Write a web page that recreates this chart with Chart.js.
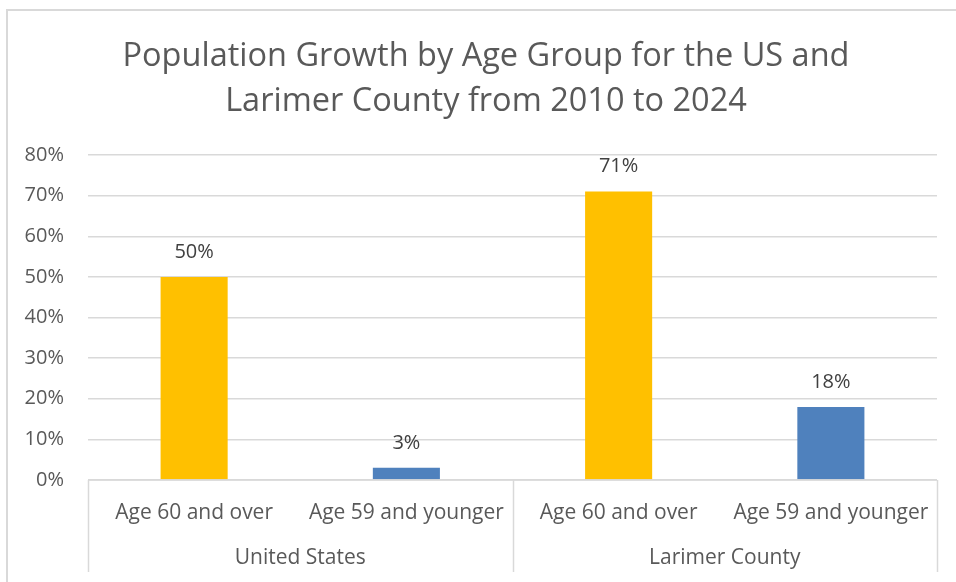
<!DOCTYPE html>
<html>
<head>
<meta charset="utf-8">
<script src="https://cdn.jsdelivr.net/npm/chart.js@4.4.1/dist/chart.umd.min.js"></script>
<style>
  html, body { margin: 0; padding: 0; background: #fff; }
  #wrap { width: 956px; height: 582px; }
</style>
</head>
<body>
<div id="wrap"><canvas id="growthChart" width="956" height="582"></canvas></div>
<script>
// data
const ageGroups = ["Age 60 and over", "Age 59 and younger", "Age 60 and over", "Age 59 and younger"];
const regions = ["United States", "Larimer County"];
const growthPct = [50, 3, 71, 18];
const barColors = ["#FFC000", "#4F81BD", "#FFC000", "#4F81BD"];
const yTicks = [0, 10, 20, 30, 40, 50, 60, 70, 80];
const titleLines = ["Population Growth by Age Group for the US and", "Larimer County from 2010 to 2024"];

const FONT = "'Open Sans', sans-serif";

// outer frame, title, value labels and the two-level category axis
const extras = {
    id: "extras",
    beforeDraw(chart) {
        const c = chart.ctx;
        c.save();
        c.strokeStyle = "#d9d9d9";
        c.lineWidth = 2;
        c.beginPath();
        c.moveTo(7, 600);
        c.lineTo(7, 10);
        c.lineTo(970, 10);
        c.stroke();
        c.font = "32.5px " + FONT;
        c.fillStyle = "#595959";
        c.textAlign = "center";
        c.textBaseline = "middle";
        titleLines.forEach(function(t, i) {
            c.fillText(t, 486, 57 + i * 45);
        });
        c.restore();
    },
    afterDatasetsDraw(chart) {
        const c = chart.ctx;
        const meta = chart.getDatasetMeta(0);
        c.save();
        c.font = "20px " + FONT;
        c.fillStyle = "#404040";
        c.textAlign = "center";
        c.textBaseline = "middle";
        meta.data.forEach(function(bar, i) {
            c.fillText(growthPct[i] + "%", bar.x, bar.y - 25);
        });
        c.restore();
    },
    afterDraw(chart) {
        const c = chart.ctx;
        const area = chart.chartArea;
        const x = chart.scales.x;
        const per = ageGroups.length / regions.length;
        const bottom = 572;
        c.save();
        c.strokeStyle = "#d9d9d9";
        c.lineWidth = 1.5;
        c.beginPath();
        c.moveTo(area.left, area.bottom);
        c.lineTo(area.right, area.bottom);
        for (let g = 0; g <= regions.length; g++) {
            let px;
            if (g === 0) px = area.left;
            else if (g === regions.length) px = area.right;
            else px = (x.getPixelForValue(g * per - 1) + x.getPixelForValue(g * per)) / 2;
            c.moveTo(Math.round(px) + 0.5, area.bottom);
            c.lineTo(Math.round(px) + 0.5, bottom);
        }
        c.stroke();
        c.font = "21px " + FONT;
        c.fillStyle = "#595959";
        c.textAlign = "center";
        c.textBaseline = "middle";
        regions.forEach(function(r, g) {
            const mid = (x.getPixelForValue(g * per) + x.getPixelForValue(g * per + per - 1)) / 2;
            c.fillText(r, mid, 558);
        });
        c.restore();
    }
};

document.addEventListener("DOMContentLoaded", function() {
    const ctx = document.getElementById("growthChart").getContext("2d");
    new Chart(ctx, {
        type: "bar",
        data: {
            labels: ageGroups,
            datasets: [{
                data: growthPct,
                backgroundColor: barColors,
                borderWidth: 0,
                barPercentage: 0.316,
                categoryPercentage: 1
            }]
        },
        options: {
            responsive: false,
            animation: false,
            layout: { padding: { left: 10, right: 19, top: 155, bottom: 0 } },
            plugins: {
                legend: { display: false },
                tooltip: { enabled: false },
                title: { display: false }
            },
            scales: {
                x: {
                    grid: { display: false, drawTicks: false },
                    border: { display: false },
                    ticks: {
                        color: "#595959",
                        font: { family: FONT, size: 21 },
                        padding: 20,
                        maxRotation: 0,
                        autoSkip: false
                    },
                    afterFit(scale) { scale.height = 102; }
                },
                y: {
                    min: 0,
                    max: 80,
                    afterBuildTicks(scale) {
                        scale.ticks = yTicks.map(function(v) { return { value: v }; });
                    },
                    grid: { color: "#d9d9d9", lineWidth: 1.5, drawTicks: false },
                    border: { display: false },
                    ticks: {
                        color: "#595959",
                        font: { family: FONT, size: 20 },
                        padding: 24,
                        callback: function(v) { return v + "%"; }
                    },
                    afterFit(scale) { scale.width = 78; }
                }
            }
        },
        plugins: [extras]
    });
});
</script>
</body>
</html>
